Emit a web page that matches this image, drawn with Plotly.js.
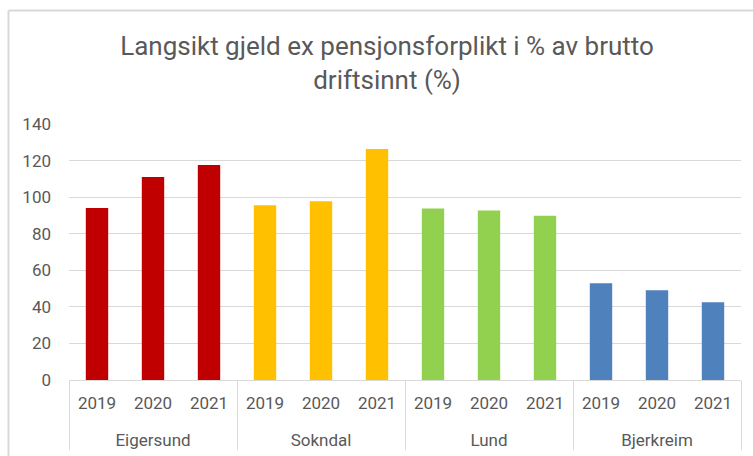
<!DOCTYPE html>
<html>
<head>
<meta charset="utf-8">
<script src="https://cdn.plot.ly/plotly-3.0.1.min.js"></script>
<style>
  html, body { margin: 0; padding: 0; background: #ffffff; }
  #chart { width: 753px; height: 456px; }
</style>
</head>
<body>
<div id="chart"></div>
<script>
// ---- data ----
const groups = ['Eigersund', 'Sokndal', 'Lund', 'Bjerkreim'];
const years = ['2019', '2020', '2021'];
const eigersund = [94, 111, 117.6];
const sokndal = [95.5, 97.7, 126.3];
const lund = [93.8, 92.7, 89.8];
const bjerkreim = [52.9, 49.1, 42.5];
const groupColors = ['#C00000', '#FFC000', '#92D050', '#4F81BD'];
const yTicks = [0, 20, 40, 60, 80, 100, 120, 140];

const seriesByGroup = [eigersund, sokndal, lund, bjerkreim];

// ---- build a single multicategory bar trace ----
// (group labels get a leading line break so they sit lower, as in the reference)
const xGroup = [], xYear = [], yVals = [], colors = [];
groups.forEach((g, gi) => {
  years.forEach((yr, yi) => {
    xGroup.push('<br>' + g);
    xYear.push(yr);
    yVals.push(seriesByGroup[gi][yi]);
    colors.push(groupColors[gi]);
  });
});

const W = 753, H = 456;
const M = { l: 69, r: 12, t: 124, b: 76 };
const pw = W - M.l - M.r, ph = H - M.t - M.b;
const px = x => (x - M.l) / pw;
const py = y => 1 - (y - M.t) / ph;

const FONT = '"Roboto", "DejaVu Sans", sans-serif';
const TXT = '#595959';
const GRID = '#D9D9D9';

const data = [{
  type: 'bar',
  x: [xGroup, xYear],
  y: yVals,
  marker: { color: colors },
  hoverinfo: 'skip'
}];

const layout = {
  width: W,
  height: H,
  margin: M,
  paper_bgcolor: '#ffffff',
  plot_bgcolor: '#ffffff',
  showlegend: false,
  bargap: 0.6,
  font: { family: FONT, color: TXT, size: 17 },
  title: {
    text: 'Langsikt gjeld ex pensjonsforplikt i % av brutto<br>driftsinnt (%)',
    font: { family: FONT, size: 26, color: TXT },
    x: 0.514,
    xref: 'container',
    xanchor: 'center',
    y: 1 - 55 / H,
    yref: 'container',
    yanchor: 'top'
  },
  xaxis: {
    type: 'multicategory',
    showline: true,
    linecolor: GRID,
    linewidth: 1,
    showgrid: false,
    zeroline: false,
    ticks: '',
    showdividers: true,
    dividercolor: GRID,
    dividerwidth: 1,
    ticklabelstandoff: 8,
    tickfont: { family: FONT, size: 17, color: TXT },
    fixedrange: true
  },
  yaxis: {
    range: [0, 140],
    tickvals: yTicks,
    ticktext: yTicks.map(String),
    showgrid: true,
    gridcolor: GRID,
    gridwidth: 1,
    zeroline: false,
    showline: false,
    ticks: '',
    ticklabelstandoff: 17,
    tickfont: { family: FONT, size: 17, color: TXT },
    fixedrange: true
  },
  shapes: [
    { type: 'line', xref: 'paper', yref: 'paper', x0: px(8.5), x1: px(8.5), y0: py(10.5), y1: py(H + 2), line: { color: GRID, width: 2 } },
    { type: 'line', xref: 'paper', yref: 'paper', x0: px(8.5), x1: px(W + 2), y0: py(10.5), y1: py(10.5), line: { color: GRID, width: 2 } }
  ]
};

Plotly.newPlot('chart', data, layout, { displayModeBar: false, staticPlot: true });
</script>
</body>
</html>
